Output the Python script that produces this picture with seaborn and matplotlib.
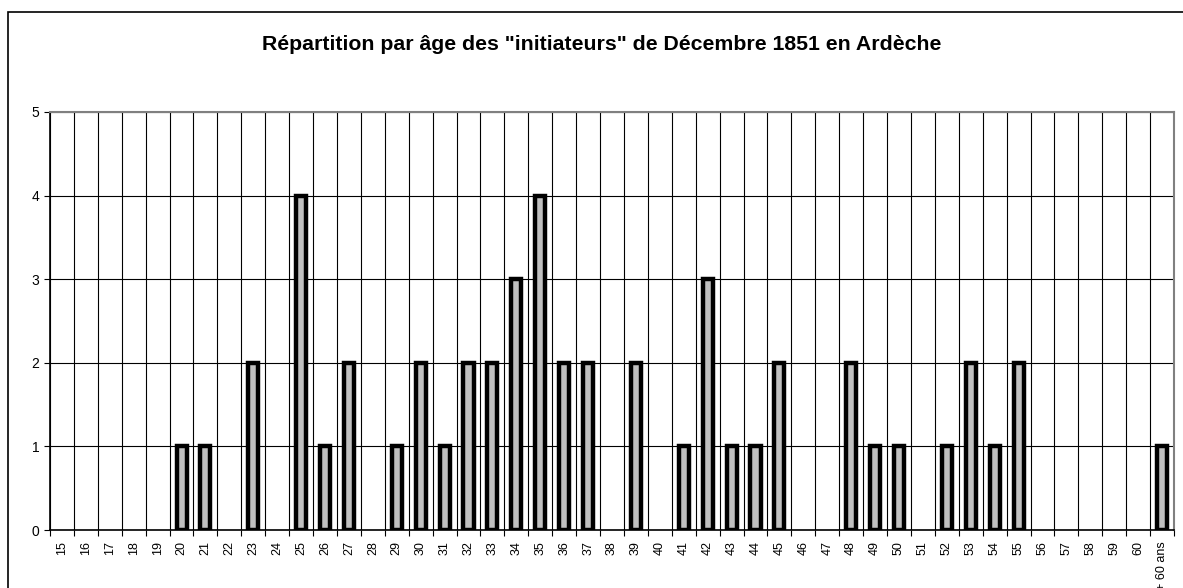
"""Répartition par âge des "initiateurs" de Décembre 1851 en Ardèche"""
import numpy as np
import pandas as pd
import seaborn as sns
from matplotlib import pyplot as plt
from matplotlib.patches import Rectangle

ages = [str(a) for a in range(15, 61)] + ["+ 60 ans"]
counts = [0, 0, 0, 0, 0, 1, 1, 0, 2, 0, 4, 1, 2, 0, 1, 2, 1, 2, 2, 3, 4, 2, 2, 0,
          2, 0, 1, 3, 1, 1, 2, 0, 0, 2, 1, 1, 0, 1, 2, 1, 2, 0, 0, 0, 0, 0, 1]
title = 'Répartition par âge des "initiateurs" de Décembre 1851 en Ardèche'

df = pd.DataFrame({"Age": ages, "Count": counts})

sns.set_style("white")
plt.rcParams["font.family"] = ["Liberation Sans", "DejaVu Sans"]
plt.rcParams["text.color"] = "black"
plt.rcParams["xtick.color"] = "black"
plt.rcParams["ytick.color"] = "black"

fig = plt.figure(figsize=(11.83, 5.88), dpi=100)
ax = fig.add_axes([50 / 1183, 1 - 530 / 588, 1124 / 1183, 418 / 588])

# outer chart frame (open to the right / bottom like the original)
fig.patches.append(Rectangle((8 / 1183, -0.1), 1.2, 1.1 - 12 / 588,
                             transform=fig.transFigure, fill=False,
                             edgecolor="black", linewidth=1.2))

sns.barplot(data=df, x="Age", y="Count", order=ages, color="#C0C0C0",
            width=0.42, edgecolor="black", linewidth=3.2, saturation=1, ax=ax)
for p in ax.patches:
    p.set_facecolor("#C0C0C0")
    if p.get_height() == 0:
        p.set_visible(False)

n = len(ages)
ax.set_xlim(-0.5, n - 0.5)
ax.set_ylim(0, 5)
ax.set_yticks(range(6))
ax.set_xticks(np.arange(-0.5, n, 1), minor=True)
ax.set_xticks(range(n))
ax.set_xticklabels(ages, rotation=90, fontsize=9)
ax.tick_params(axis="x", which="major", length=0, pad=8)
ax.tick_params(axis="x", which="minor", length=4, width=0.8, direction="out",
               bottom=True, color="black")
ax.tick_params(axis="y", length=4, width=0.8, direction="out", left=True,
               labelsize=10, color="black")
ax.grid(axis="x", which="minor", color="black", linewidth=0.8)
ax.grid(axis="y", which="major", color="black", linewidth=0.8)
ax.set_axisbelow(True)
for s in ["top", "right"]:
    ax.spines[s].set_color("#808080")
    ax.spines[s].set_linewidth(1.5)
for s in ["left", "bottom"]:
    ax.spines[s].set_color("black")
    ax.spines[s].set_linewidth(1.2)
ax.set_xlabel("")
ax.set_ylabel("")

fig.text(0.509, 1 - 45 / 588, title, ha="center", va="center",
         fontsize=15.3, fontweight="bold")

plt.savefig("out.png", dpi=100)
